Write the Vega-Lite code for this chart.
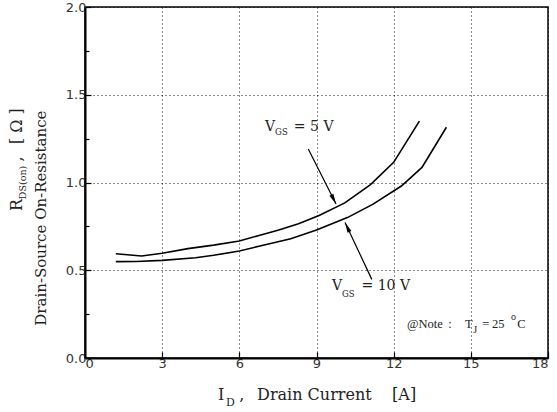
{
  "$schema": "https://vega.github.io/schema/vega-lite/v6.json",
  "width": 463,
  "height": 351,
  "autosize": {"type": "none"},
  "padding": {"left": 85, "top": 7, "right": 9, "bottom": 54},
  "background": "white",
  "config": {
    "view": {"stroke": "#000", "strokeWidth": 1.5},
    "axis": {
      "domainColor": "#000",
      "domainWidth": 2,
      "tickColor": "#000",
      "tickWidth": 1.2,
      "labelFont": "DejaVu Sans",
      "labelFontSize": 13,
      "labelColor": "#333",
      "gridColor": "#000",
      "gridDash": [1, 3],
      "gridWidth": 1,
      "title": null
    }
  },
  "datasets": {
    "curves": [
      {"series": "5V", "x": 1.2, "y": 0.594},
      {"series": "5V", "x": 2.2, "y": 0.581},
      {"series": "5V", "x": 3.0, "y": 0.597},
      {"series": "5V", "x": 4.0, "y": 0.623},
      {"series": "5V", "x": 5.0, "y": 0.643},
      {"series": "5V", "x": 6.0, "y": 0.667},
      {"series": "5V", "x": 6.8, "y": 0.7},
      {"series": "5V", "x": 7.5, "y": 0.728},
      {"series": "5V", "x": 8.3, "y": 0.765},
      {"series": "5V", "x": 9.1, "y": 0.812},
      {"series": "5V", "x": 10.1, "y": 0.884},
      {"series": "5V", "x": 11.1, "y": 0.988},
      {"series": "5V", "x": 12.0, "y": 1.115},
      {"series": "5V", "x": 13.0, "y": 1.35},
      {"series": "10V", "x": 1.2, "y": 0.549},
      {"series": "10V", "x": 2.0, "y": 0.55},
      {"series": "10V", "x": 3.0, "y": 0.556},
      {"series": "10V", "x": 4.3, "y": 0.571},
      {"series": "10V", "x": 5.0, "y": 0.585},
      {"series": "10V", "x": 6.0, "y": 0.61},
      {"series": "10V", "x": 6.8, "y": 0.638},
      {"series": "10V", "x": 8.0, "y": 0.68},
      {"series": "10V", "x": 9.0, "y": 0.73},
      {"series": "10V", "x": 10.2, "y": 0.8},
      {"series": "10V", "x": 11.2, "y": 0.877},
      {"series": "10V", "x": 12.3, "y": 0.98},
      {"series": "10V", "x": 13.1, "y": 1.086},
      {"series": "10V", "x": 14.05, "y": 1.315}
    ],
    "arrows": [
      {"id": "a5", "x": 8.68, "y": 1.191, "x2": 9.76, "y2": 0.877},
      {"id": "a10", "x": 11.15, "y": 0.448, "x2": 10.11, "y2": 0.772}
    ],
    "labels": [
      {"kind": "ann", "x": 7.0, "y": 1.315, "text": "V"},
      {"kind": "annSub", "x": 7.39, "y": 1.288, "text": "GS"},
      {"kind": "ann", "x": 8.12, "y": 1.315, "text": "= 5 V"},
      {"kind": "ann", "x": 9.6, "y": 0.41, "text": "V"},
      {"kind": "annSub", "x": 9.99, "y": 0.362, "text": "GS"},
      {"kind": "ann", "x": 10.75, "y": 0.41, "text": "= 10 V"},
      {"kind": "xt", "x": 5.17, "y": -0.213, "text": "I"},
      {"kind": "xtSub", "x": 5.48, "y": -0.255, "text": "D"},
      {"kind": "xt", "x": 6.0, "y": -0.213, "text": ","},
      {"kind": "xt", "x": 6.69, "y": -0.213, "text": "Drain Current"},
      {"kind": "xt", "x": 11.94, "y": -0.213, "text": "[A]"},
      {"kind": "yt", "x": -2.644, "y": 0.837, "text": "R"},
      {"kind": "ytSub", "x": -2.41, "y": 0.905, "text": "DS(on)"},
      {"kind": "yt", "x": -2.644, "y": 1.12, "text": ","},
      {"kind": "yt", "x": -2.644, "y": 1.219, "text": "[ Ω ]"},
      {"kind": "yt2", "x": -1.711, "y": 0.797, "text": "Drain-Source On-Resistance"},
      {"kind": "note", "x": 12.52, "y": 0.191, "text": "@Note"},
      {"kind": "note", "x": 14.12, "y": 0.191, "text": ":"},
      {"kind": "note", "x": 14.77, "y": 0.191, "text": "T"},
      {"kind": "noteSub", "x": 15.09, "y": 0.157, "text": "J"},
      {"kind": "note", "x": 15.44, "y": 0.191, "text": "="},
      {"kind": "note", "x": 15.82, "y": 0.191, "text": "25"},
      {"kind": "noteSup", "x": 16.56, "y": 0.235, "text": "o"},
      {"kind": "note", "x": 16.8, "y": 0.191, "text": "C"}
    ]
  },
  "layer": [
    {
      "data": {"name": "curves"},
      "mark": {"type": "line", "color": "#000", "strokeWidth": 1.6},
      "encoding": {
        "x": {
          "field": "x", "type": "quantitative",
          "scale": {"domain": [0, 18], "nice": false, "zero": false},
          "axis": {
            "values": [0, 1.5, 3, 4.5, 6, 7.5, 9, 10.5, 12, 13.5, 15, 16.5, 18],
            "labelExpr": "datum.value % 3 === 0 ? datum.label : ''",
            "tickSize": {"condition": {"test": "datum.value % 3 === 0", "value": -6}, "value": -4},
            "gridOpacity": {"condition": {"test": "datum.value % 3 === 0", "value": 0.9}, "value": 0},
            "labelPadding": 5,
            "grid": true
          }
        },
        "y": {
          "field": "y", "type": "quantitative",
          "scale": {"domain": [0, 2], "nice": false, "zero": false},
          "axis": {
            "values": [0, 0.25, 0.5, 0.75, 1, 1.25, 1.5, 1.75, 2],
            "format": ".1f",
            "labelExpr": "datum.value % 0.5 === 0 ? datum.label : ''",
            "tickSize": {"condition": {"test": "datum.value % 0.5 === 0", "value": -6}, "value": -4},
            "gridOpacity": {"condition": {"test": "datum.value % 0.5 === 0", "value": 0.9}, "value": 0},
            "labelPadding": 5,
            "grid": true
          }
        },
        "detail": {"field": "series"}
      }
    },
    {
      "data": {"name": "arrows"},
      "mark": {"type": "rule", "color": "#000", "strokeWidth": 1.2},
      "encoding": {
        "x": {"field": "x", "type": "quantitative", "scale": {"domain": [0, 18]}},
        "y": {"field": "y", "type": "quantitative", "scale": {"domain": [0, 2]}},
        "x2": {"field": "x2"},
        "y2": {"field": "y2"}
      }
    },
    {
      "data": {"name": "arrows"},
      "transform": [{"filter": "datum.id === 'a5'"}],
      "mark": {"type": "point", "shape": "M0,0L-0.55,2.6L0.55,2.6Z", "filled": true, "color": "#000", "opacity": 1, "size": 64, "angle": 153.3},
      "encoding": {
        "x": {"field": "x2", "type": "quantitative", "scale": {"domain": [0, 18]}},
        "y": {"field": "y2", "type": "quantitative", "scale": {"domain": [0, 2]}}
      }
    },
    {
      "data": {"name": "arrows"},
      "transform": [{"filter": "datum.id === 'a10'"}],
      "mark": {"type": "point", "shape": "M0,0L-0.55,2.6L0.55,2.6Z", "filled": true, "color": "#000", "opacity": 1, "size": 64, "angle": 334.8},
      "encoding": {
        "x": {"field": "x2", "type": "quantitative", "scale": {"domain": [0, 18]}},
        "y": {"field": "y2", "type": "quantitative", "scale": {"domain": [0, 2]}}
      }
    },
    {
      "data": {"name": "labels"},
      "transform": [{"filter": "datum.kind === 'ann'"}],
      "mark": {"type": "text", "font": "DejaVu Serif", "fontSize": 14, "align": "left", "baseline": "middle", "color": "#222"},
      "encoding": {
        "x": {"field": "x", "type": "quantitative", "scale": {"domain": [0, 18]}},
        "y": {"field": "y", "type": "quantitative", "scale": {"domain": [0, 2]}},
        "text": {"field": "text"}
      }
    },
    {
      "data": {"name": "labels"},
      "transform": [{"filter": "datum.kind === 'annSub'"}],
      "mark": {"type": "text", "font": "DejaVu Serif", "fontSize": 8.5, "align": "left", "baseline": "middle", "color": "#222"},
      "encoding": {
        "x": {"field": "x", "type": "quantitative", "scale": {"domain": [0, 18]}},
        "y": {"field": "y", "type": "quantitative", "scale": {"domain": [0, 2]}},
        "text": {"field": "text"}
      }
    },
    {
      "data": {"name": "labels"},
      "transform": [{"filter": "datum.kind === 'xt'"}],
      "mark": {"type": "text", "font": "DejaVu Serif", "fontSize": 16, "align": "left", "baseline": "middle", "color": "#222"},
      "encoding": {
        "x": {"field": "x", "type": "quantitative", "scale": {"domain": [0, 18]}},
        "y": {"field": "y", "type": "quantitative", "scale": {"domain": [0, 2]}},
        "text": {"field": "text"}
      }
    },
    {
      "data": {"name": "labels"},
      "transform": [{"filter": "datum.kind === 'xtSub'"}],
      "mark": {"type": "text", "font": "DejaVu Serif", "fontSize": 11, "align": "left", "baseline": "middle", "color": "#222"},
      "encoding": {
        "x": {"field": "x", "type": "quantitative", "scale": {"domain": [0, 18]}},
        "y": {"field": "y", "type": "quantitative", "scale": {"domain": [0, 2]}},
        "text": {"field": "text"}
      }
    },
    {
      "data": {"name": "labels"},
      "transform": [{"filter": "datum.kind === 'yt'"}],
      "mark": {"type": "text", "font": "DejaVu Serif", "fontSize": 16, "align": "left", "baseline": "middle", "angle": 270, "color": "#222"},
      "encoding": {
        "x": {"field": "x", "type": "quantitative", "scale": {"domain": [0, 18]}},
        "y": {"field": "y", "type": "quantitative", "scale": {"domain": [0, 2]}},
        "text": {"field": "text"}
      }
    },
    {
      "data": {"name": "labels"},
      "transform": [{"filter": "datum.kind === 'ytSub'"}],
      "mark": {"type": "text", "font": "DejaVu Serif", "fontSize": 9.5, "align": "left", "baseline": "middle", "angle": 270, "color": "#222"},
      "encoding": {
        "x": {"field": "x", "type": "quantitative", "scale": {"domain": [0, 18]}},
        "y": {"field": "y", "type": "quantitative", "scale": {"domain": [0, 2]}},
        "text": {"field": "text"}
      }
    },
    {
      "data": {"name": "labels"},
      "transform": [{"filter": "datum.kind === 'yt2'"}],
      "mark": {"type": "text", "font": "DejaVu Serif", "fontSize": 15, "align": "center", "baseline": "middle", "angle": 270, "color": "#222"},
      "encoding": {
        "x": {"field": "x", "type": "quantitative", "scale": {"domain": [0, 18]}},
        "y": {"field": "y", "type": "quantitative", "scale": {"domain": [0, 2]}},
        "text": {"field": "text"}
      }
    },
    {
      "data": {"name": "labels"},
      "transform": [{"filter": "datum.kind === 'note'"}],
      "mark": {"type": "text", "font": "Liberation Serif", "fontSize": 12.5, "align": "left", "baseline": "middle", "color": "#222"},
      "encoding": {
        "x": {"field": "x", "type": "quantitative", "scale": {"domain": [0, 18]}},
        "y": {"field": "y", "type": "quantitative", "scale": {"domain": [0, 2]}},
        "text": {"field": "text"}
      }
    },
    {
      "data": {"name": "labels"},
      "transform": [{"filter": "datum.kind === 'noteSub' || datum.kind === 'noteSup'"}],
      "mark": {"type": "text", "font": "Liberation Serif", "fontSize": 10, "align": "left", "baseline": "middle", "color": "#222"},
      "encoding": {
        "x": {"field": "x", "type": "quantitative", "scale": {"domain": [0, 18]}},
        "y": {"field": "y", "type": "quantitative", "scale": {"domain": [0, 2]}},
        "text": {"field": "text"}
      }
    }
  ]
}
